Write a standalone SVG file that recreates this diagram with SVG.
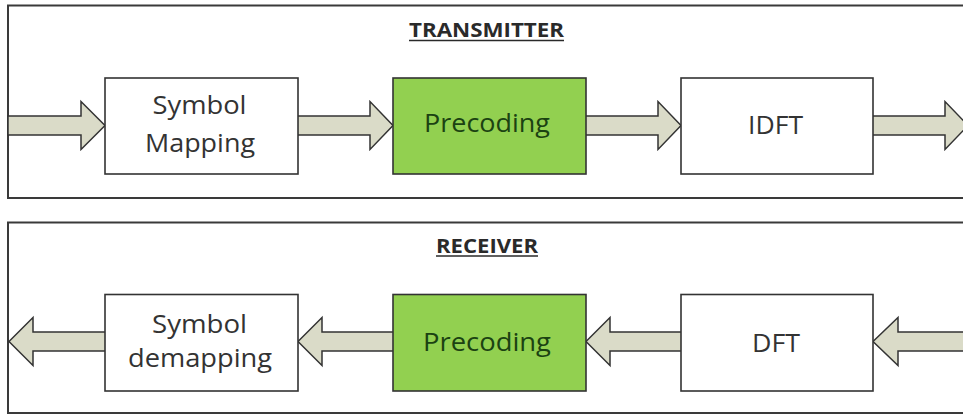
<svg xmlns="http://www.w3.org/2000/svg" width="963" height="416" viewBox="0 0 963 416">
  <style>
    .frame { fill: #ffffff; stroke: #3a3a3a; stroke-width: 2; }
    .box { fill: #ffffff; stroke: #333333; stroke-width: 1.6; }
    .box.hl { fill: #92d050; }
    .arrow { fill: #dadbc8; stroke: #333333; stroke-width: 1.5; stroke-linejoin: miter; }
    .lbl { font-family: "Open Sans", "Liberation Sans", sans-serif; font-size: 25px; fill: #333333; text-anchor: middle; }
    .lbl.hl { fill: #1b4212; }
    .title { font-family: "Open Sans", "Liberation Sans", sans-serif; font-size: 19px; font-weight: 700; fill: #2a2a2a; text-anchor: middle; }
    .uline { stroke: #2a2a2a; stroke-width: 1.6; }
  </style>

  <rect width="963" height="416" fill="#ffffff"/>

  <!-- section frames (right edge runs past the canvas) -->
  <g id="transmitter">
    <rect class="frame" x="8" y="5.5" width="962" height="192.5"/>
    <text class="title" x="486.5" y="37" textLength="155" lengthAdjust="spacingAndGlyphs">TRANSMITTER</text>
    <line class="uline" x1="409" y1="40.5" x2="564" y2="40.5"/>
  </g>
  <g id="receiver">
    <rect class="frame" x="8" y="222.5" width="962" height="190.5"/>
    <text class="title" x="487" y="252.5" textLength="102" lengthAdjust="spacingAndGlyphs">RECEIVER</text>
    <line class="uline" x1="436" y1="256" x2="538" y2="256"/>
  </g>

  <!-- block arrows -->
  <g id="connectors">
    <!-- transmitter chain, pointing right -->
    <polygon class="arrow" points="8,116 81,116 81,101.5 105,125.5 81,149.5 81,135 8,135"/>
    <polygon class="arrow" points="296,116 370,116 370,101.5 393,125.5 370,149.5 370,135 296,135"/>
    <polygon class="arrow" points="584,116 658,116 658,101.5 681,125.5 658,149.5 658,135 584,135"/>
    <polygon class="arrow" points="871,116 945,116 945,101.5 968,125.5 945,149.5 945,135 871,135"/>
    <!-- receiver chain, pointing left -->
    <polygon class="arrow" points="9,341.5 33,317.5 33,332 107,332 107,351 33,351 33,365.5"/>
    <polygon class="arrow" points="298,341.5 322,317.5 322,332 395,332 395,351 322,351 322,365.5"/>
    <polygon class="arrow" points="586,341.5 610,317.5 610,332 683,332 683,351 610,351 610,365.5"/>
    <polygon class="arrow" points="873,341.5 898,317.5 898,332 975,332 975,351 898,351 898,365.5"/>
  </g>

  <!-- transmitter blocks -->
  <g id="symbol-mapping">
    <rect class="box" x="105" y="78" width="193" height="96"/>
    <text class="lbl" x="199.5" y="114" textLength="94" lengthAdjust="spacingAndGlyphs">Symbol</text>
    <text class="lbl" x="200" y="151.5" textLength="110" lengthAdjust="spacingAndGlyphs">Mapping</text>
  </g>
  <g id="precoding-tx">
    <rect class="box hl" x="393" y="78" width="193" height="96"/>
    <text class="lbl hl" x="487" y="132" textLength="126" lengthAdjust="spacingAndGlyphs">Precoding</text>
  </g>
  <g id="idft">
    <rect class="box" x="681" y="78" width="192" height="96"/>
    <text class="lbl" x="775.5" y="134" textLength="55" lengthAdjust="spacingAndGlyphs">IDFT</text>
  </g>

  <!-- receiver blocks -->
  <g id="symbol-demapping">
    <rect class="box" x="105" y="294.5" width="193" height="96.5"/>
    <text class="lbl" x="199.5" y="333" textLength="95" lengthAdjust="spacingAndGlyphs">Symbol</text>
    <text class="lbl" x="200" y="367" textLength="144" lengthAdjust="spacingAndGlyphs">demapping</text>
  </g>
  <g id="precoding-rx">
    <rect class="box hl" x="393" y="294.5" width="193" height="96.5"/>
    <text class="lbl hl" x="487" y="350.5" textLength="128" lengthAdjust="spacingAndGlyphs">Precoding</text>
  </g>
  <g id="dft">
    <rect class="box" x="681" y="294.5" width="192" height="96.5"/>
    <text class="lbl" x="776" y="351.5" textLength="48" lengthAdjust="spacingAndGlyphs">DFT</text>
  </g>
</svg>
